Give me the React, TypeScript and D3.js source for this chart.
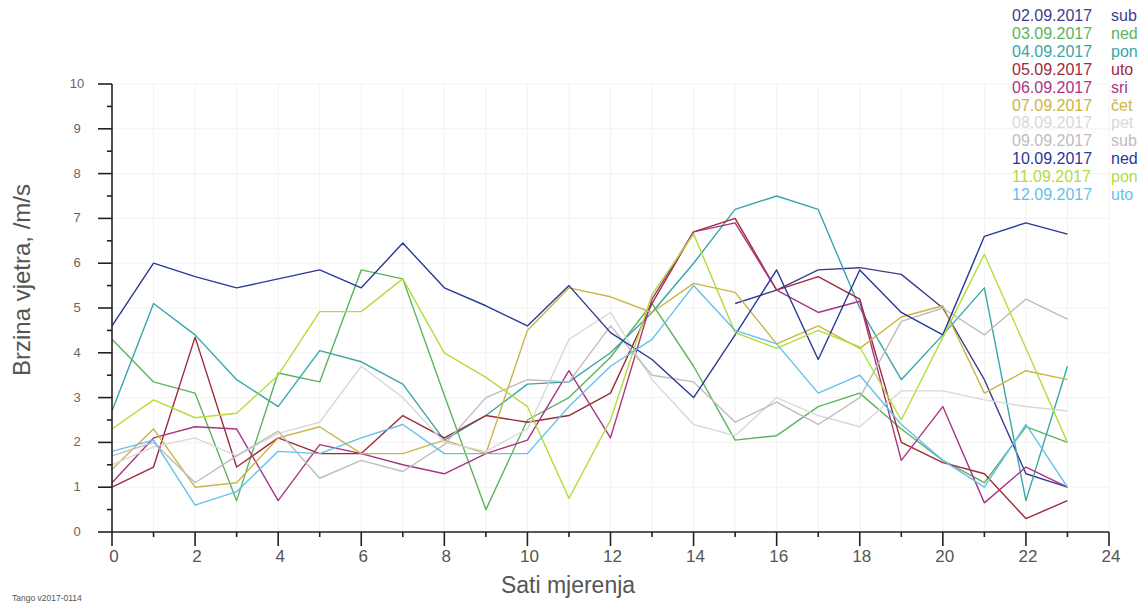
import React from "react";
import * as d3 from "d3";

const hours: number[] = d3.range(0, 24);
const xTicks: number[] = [0, 2, 4, 6, 8, 10, 12, 14, 16, 18, 20, 22, 24];
const yTicks: number[] = [0, 1, 2, 3, 4, 5, 6, 7, 8, 9, 10];

const legendDates: string[] = [
  "02.09.2017", "03.09.2017", "04.09.2017", "05.09.2017", "06.09.2017", "07.09.2017",
  "08.09.2017", "09.09.2017", "10.09.2017", "11.09.2017", "12.09.2017",
];
const legendDays: string[] = ["sub", "ned", "pon", "uto", "sri", "čet", "pet", "sub", "ned", "pon", "uto"];
const colors: string[] = [
  "#3d3d8f", "#5cb35c", "#38a6a8", "#9e2a3a", "#ab3482", "#cbb445",
  "#d9d9d9", "#bdbdbd", "#27389b", "#b3dd3a", "#63c2ea",
];

const N = null;
const s0209: (number | null)[] = [N, N, N, N, N, N, N, N, N, N, N, N, N, N, N, 5.1, 5.4, 5.85, 5.9, 5.75, 5.0, 3.4, 1.3, 1.0];
const s0309: (number | null)[] = [4.3, 3.35, 3.1, 0.7, 3.55, 3.35, 5.85, 5.65, 3.05, 0.5, 2.5, 3.0, 3.9, 5.1, 3.7, 2.05, 2.15, 2.8, 3.1, 2.3, 1.6, 1.1, 2.35, 2.0];
const s0409: (number | null)[] = [2.7, 5.1, 4.4, 3.4, 2.8, 4.05, 3.8, 3.3, 2.05, 2.6, 3.3, 3.35, 4.0, 4.9, 6.0, 7.2, 7.5, 7.2, 5.0, 3.4, 4.4, 5.45, 0.7, 3.7];
const s0509: (number | null)[] = [1.0, 1.45, 4.35, 1.45, 2.1, 1.75, 1.75, 2.6, 2.1, 2.6, 2.45, 2.6, 3.1, 5.1, 6.7, 7.0, 5.4, 5.7, 5.2, 2.0, 1.55, 1.3, 0.3, 0.7];
const s0609: (number | null)[] = [1.1, 2.1, 2.35, 2.3, 0.7, 1.95, 1.75, 1.5, 1.3, 1.75, 2.05, 3.6, 2.1, 5.2, 6.7, 6.9, 5.4, 4.9, 5.15, 1.6, 2.8, 0.65, 1.45, 1.0];
const s0709: (number | null)[] = [1.4, 2.3, 1.0, 1.1, 2.1, 2.35, 1.75, 1.75, 2.05, 1.75, 4.5, 5.45, 5.25, 4.9, 5.55, 5.35, 4.2, 4.6, 4.1, 4.8, 5.05, 3.1, 3.6, 3.4];
const s0809: (number | null)[] = [1.5, 1.9, 2.1, 1.7, 2.2, 2.45, 3.7, 3.0, 2.0, 1.8, 2.3, 4.3, 4.9, 3.4, 2.4, 2.15, 3.0, 2.6, 2.35, 3.15, 3.15, 2.95, 2.8, 2.7];
const s0909: (number | null)[] = [1.7, 2.0, 1.1, 1.7, 2.25, 1.2, 1.6, 1.35, 1.95, 3.0, 3.4, 3.35, 4.6, 3.5, 3.35, 2.45, 2.9, 2.4, 3.0, 4.7, 5.0, 4.4, 5.2, 4.75];
const s1009: (number | null)[] = [4.6, 6.0, 5.7, 5.45, 5.65, 5.85, 5.45, 6.45, 5.45, 5.05, 4.6, 5.5, 4.45, 3.85, 3.0, 4.4, 5.85, 3.85, 5.85, 4.9, 4.4, 6.6, 6.9, 6.65];
const s1109: (number | null)[] = [2.3, 2.95, 2.55, 2.65, 3.5, 4.92, 4.92, 5.65, 4.0, 3.45, 2.8, 0.75, 2.5, 5.3, 6.65, 4.45, 4.1, 4.5, 4.13, 2.5, 4.35, 6.2, 4.1, 2.0];
const s1209: (number | null)[] = [1.8, 2.05, 0.6, 0.9, 1.8, 1.75, 2.1, 2.4, 1.75, 1.75, 1.75, 2.8, 3.7, 4.3, 5.5, 4.5, 4.2, 3.1, 3.5, 2.4, 1.6, 1.0, 2.4, 1.0];

const seriesValues = [s0209, s0309, s0409, s0509, s0609, s0709, s0809, s0909, s1009, s1109, s1209];

const W = 1143;
const H = 609;

export default function App() {
  const x = d3.scaleLinear().domain([0, 24]).range([112, 1109]);
  const y = d3.scaleLinear().domain([0, 10]).range([532, 84]);
  const line = d3
    .line<number | null>()
    .defined((d) => d !== null)
    .x((_, i) => x(hours[i]))
    .y((d) => y(d as number));

  const minorX = d3.range(1, 24, 2);
  const minorY = d3.range(0.5, 10, 1);
  const gridX = d3.range(1, 25);
  const gridY = d3.range(1, 11);
  const font = "'Liberation Sans', Arial, sans-serif";

  return (
    <svg width={W} height={H} style={{ position: "absolute", left: 0, top: 0, background: "#fff" }} fontFamily={font}>
      <rect x={0} y={0} width={W} height={H} fill="#ffffff" />
      <g stroke="#f2f2f2" strokeWidth={1}>
        {gridX.map((h) => (
          <line key={"gx" + h} x1={x(h)} x2={x(h)} y1={y(10)} y2={y(0)} />
        ))}
        {gridY.map((v) => (
          <line key={"gy" + v} x1={x(0)} x2={x(24)} y1={y(v)} y2={y(v)} />
        ))}
      </g>
      <g fill="none" strokeWidth={1.4} strokeLinejoin="round">
        {seriesValues.map((vals, i) => (
          <path key={"s" + i} d={line(vals) || ""} stroke={colors[i]} />
        ))}
      </g>
      <g stroke="#222" strokeWidth={1.6}>
        <line x1={x(0)} x2={x(0)} y1={y(10)} y2={y(0)} />
        <line x1={x(0)} x2={x(24)} y1={y(0)} y2={y(0)} />
        {yTicks.map((v) => (
          <line key={"yt" + v} x1={x(0) - 14} x2={x(0)} y1={y(v)} y2={y(v)} />
        ))}
        {minorY.map((v) => (
          <line key={"ym" + v} x1={x(0) - 5} x2={x(0)} y1={y(v)} y2={y(v)} />
        ))}
        {xTicks.map((h) => (
          <line key={"xt" + h} x1={x(h)} x2={x(h)} y1={y(0)} y2={y(0) + 14} />
        ))}
        {minorX.map((h) => (
          <line key={"xm" + h} x1={x(h)} x2={x(h)} y1={y(0)} y2={y(0) + 5} />
        ))}
      </g>
      <g fill="#666" fontSize={13} textAnchor="middle">
        {yTicks.map((v) => (
          <text key={"yl" + v} x={77} y={y(v) + 4}>
            {v}
          </text>
        ))}
      </g>
      <g fill="#555" fontSize={17} textAnchor="middle">
        {xTicks.map((h) => (
          <text key={"xl" + h} x={x(h) + 2} y={562}>
            {h}
          </text>
        ))}
      </g>
      <text x={568} y={593} textAnchor="middle" fontSize={23} fill="#555">
        Sati mjerenja
      </text>
      <text transform="translate(30,280) rotate(-90)" textAnchor="middle" fontSize={24} fill="#555">
        Brzina vjetra, /m/s
      </text>
      <text x={12} y={601} fontSize={8.5} fill="#555">
        Tango v2017-0114
      </text>
      <g fontSize={16}>
        {legendDates.map((d, i) => (
          <g key={"lg" + i} fill={colors[i]}>
            <text x={1012} y={21 + i * 17.9}>{d}</text>
            <text x={1111} y={21 + i * 17.9}>{legendDays[i]}</text>
          </g>
        ))}
      </g>
    </svg>
  );
}
